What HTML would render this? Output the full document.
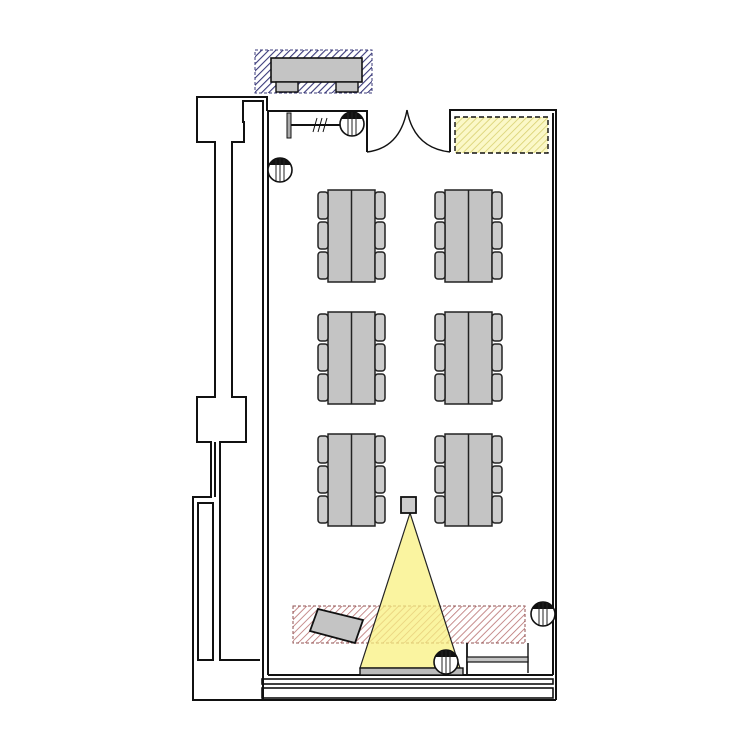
<!DOCTYPE html>
<html><head><meta charset="utf-8"><style>html,body{margin:0;padding:0;background:#fff}svg{display:block}</style></head>
<body>
<svg width="750" height="750" viewBox="0 0 750 750" xmlns="http://www.w3.org/2000/svg">
<defs>
<pattern id="hb" width="5" height="5" patternUnits="userSpaceOnUse" patternTransform="rotate(45)"><rect width="5" height="5" fill="#fff"/><line x1="0" y1="0" x2="0" y2="5" stroke="#3a3a7a" stroke-width="2.2"/></pattern>
<pattern id="hy" width="5" height="5" patternUnits="userSpaceOnUse" patternTransform="rotate(45)"><rect width="5" height="5" fill="#fbf8c8"/><line x1="0" y1="0" x2="0" y2="5" stroke="#d8d070" stroke-width="1.6"/></pattern>
<pattern id="hr" width="5" height="5" patternUnits="userSpaceOnUse" patternTransform="rotate(45)"><rect width="5" height="5" fill="#fff"/><line x1="0" y1="0" x2="0" y2="5" stroke="#b87070" stroke-width="1.6"/></pattern>
<g id="chair"><rect x="0" y="0" width="10" height="27" rx="3" fill="#ccc" stroke="#222" stroke-width="1.5"/></g>
<g id="grp">
<rect x="0" y="0" width="47" height="92" fill="#c4c4c4" stroke="#222" stroke-width="1.5"/>
<line x1="23.5" y1="0" x2="23.5" y2="92" stroke="#222" stroke-width="1.5"/>
<use href="#chair" x="-10" y="2"/><use href="#chair" x="-10" y="32"/><use href="#chair" x="-10" y="62"/>
<use href="#chair" x="47" y="2"/><use href="#chair" x="47" y="32"/><use href="#chair" x="47" y="62"/>
</g>
<g id="rnd"><circle r="12" fill="#fff" stroke="#111" stroke-width="1.6"/><path d="M-11,-5 A12,12 0 0 1 11,-5 Z" fill="#111"/><line x1="-4" y1="-11" x2="-4" y2="11" stroke="#222"/><line x1="0" y1="-12" x2="0" y2="12" stroke="#222"/><line x1="4" y1="-11" x2="4" y2="11" stroke="#222"/></g>
</defs>
<g fill="none" stroke="#111" stroke-width="2">
<polyline points="267,111 267,97 197,97 197,142 215,142 215,397 197,397 197,442 211,442 211,497 193,497 193,700 556,700"/>
<polyline points="263,700 263,101 243,101 243,122 244,122 244,142 232,142 232,397 246,397 246,442 220,442 220,660 260,660"/>
<line x1="215" y1="442" x2="215" y2="497"/>
<rect x="198" y="503" width="15" height="157"/>
<polyline points="268,675 268,111 367,111 367,152"/>
<polyline points="450,152 450,110 556,110 556,700"/>
<line x1="553" y1="113" x2="553" y2="675"/>
<line x1="268" y1="675" x2="553" y2="675"/>
<rect x="262" y="679" width="291" height="5" stroke-width="1.6"/>
<rect x="262" y="688" width="291" height="10" stroke-width="1.6"/>
<path d="M367,152 Q400,148 407,110" stroke-width="1.4"/>
<path d="M450,152 Q414,148 407,110" stroke-width="1.4"/>
</g>
<rect x="255" y="50" width="117" height="43" fill="url(#hb)" stroke="#3a3a7a" stroke-dasharray="3,2"/>
<rect x="271" y="58" width="91" height="24" fill="#c4c4c4" stroke="#111" stroke-width="1.6"/>
<rect x="276" y="82" width="22" height="10" fill="#c4c4c4" stroke="#111" stroke-width="1.4"/>
<rect x="336" y="82" width="22" height="10" fill="#c4c4c4" stroke="#111" stroke-width="1.4"/>
<rect x="455" y="117" width="93" height="36" fill="url(#hy)" stroke="#111" stroke-dasharray="5,3" stroke-width="1.4"/>
<rect x="287" y="113" width="4" height="25" fill="#aaa" stroke="#111"/>
<line x1="291" y1="125" x2="350" y2="125" stroke="#111" stroke-width="2"/>
<path d="M313,132 L317,118 M318,132 L322,118 M323,132 L327,118" stroke="#111"/>
<use href="#rnd" x="352" y="124"/>
<use href="#rnd" x="280" y="170"/>
<use href="#rnd" x="543" y="614"/>
<use href="#grp" x="328" y="190"/><use href="#grp" x="445" y="190"/>
<use href="#grp" x="328" y="312"/><use href="#grp" x="445" y="312"/>
<use href="#grp" x="328" y="434"/><use href="#grp" x="445" y="434"/>
<rect x="293" y="606" width="232" height="37" fill="url(#hr)" stroke="#905050" stroke-dasharray="3,2"/>
<polygon points="318,609 363,620 355,643 310,631" fill="#c4c4c4" stroke="#111" stroke-width="1.8"/>
<polygon points="410,513 360,668 460,668" fill="#f8f080" fill-opacity="0.75" stroke="#222" stroke-width="1.2"/>
<rect x="401" y="497" width="15" height="16" fill="#ccc" stroke="#111" stroke-width="1.8"/>
<rect x="360" y="668" width="103" height="7" fill="#bbb" stroke="#111" stroke-width="1.4"/>
<use href="#rnd" x="446" y="662"/>
<line x1="467" y1="643" x2="467" y2="675" stroke="#111" stroke-width="1.8"/>
<line x1="528" y1="643" x2="528" y2="673" stroke="#111" stroke-width="1.4"/>
<rect x="467" y="657" width="61" height="5" fill="#c4c4c4" stroke="#111" stroke-width="1.2"/>
</svg>
</body></html>
